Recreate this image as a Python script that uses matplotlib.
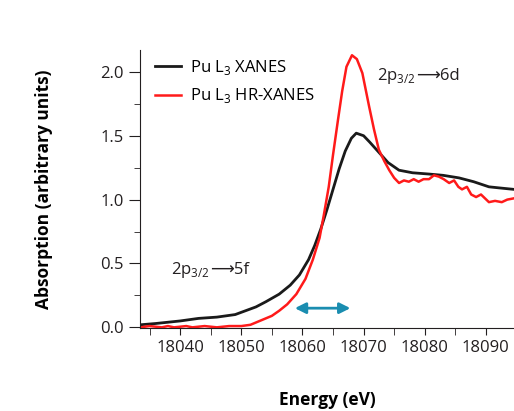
import matplotlib.pyplot as plt
from matplotlib.ticker import MultipleLocator
from matplotlib.transforms import offset_copy

plt.rcParams['font.family'] = ['Open Sans', 'DejaVu Sans']
plt.rcParams['mathtext.fontset'] = 'custom'
plt.rcParams['mathtext.rm'] = 'Open Sans'

# Pu L3 XANES (black)
E_xanes = [18033.5, 18036, 18040, 18043, 18046, 18049, 18052.4, 18054, 18056.2, 18058,
           18059.5, 18061, 18062, 18063, 18064, 18065, 18066, 18067, 18068, 18068.8,
           18070, 18071, 18072.5, 18074, 18075.8, 18078, 18080.7, 18083, 18085.6,
           18088, 18090.5, 18092.5, 18094.6]
A_xanes = [0.02, 0.03, 0.05, 0.07, 0.08, 0.10, 0.16, 0.20, 0.26, 0.33,
           0.41, 0.53, 0.64, 0.77, 0.92, 1.08, 1.24, 1.38, 1.48, 1.52,
           1.50, 1.45, 1.37, 1.29, 1.23, 1.21, 1.20, 1.19, 1.17,
           1.14, 1.10, 1.09, 1.08]

# Pu L3 HR-XANES (red)
E_hr = [18033.5, 18035, 18037, 18038, 18039, 18041, 18042, 18044, 18046, 18048, 18050,
        18051.5, 18052.5, 18054, 18055, 18056.2, 18057.5, 18059, 18060.5, 18061.7,
        18062.8, 18063.5, 18064.3, 18065, 18065.8, 18066.5, 18067.2, 18068.1,
        18068.9, 18069.8, 18070.9, 18071.7, 18072.5, 18073.4, 18074.2, 18075,
        18075.8, 18076.6, 18077.4, 18078.2, 18079, 18079.8, 18080.7, 18081.5,
        18082.3, 18083.1, 18084, 18084.8, 18085.5, 18086.1, 18086.9, 18087.6,
        18088.4, 18089.2, 18090.5, 18091.5, 18092.6, 18093.5, 18094.6]
A_hr = [0.00, 0.01, 0.00, 0.01, 0.00, 0.01, 0.00, 0.01, 0.00, 0.01, 0.01,
        0.02, 0.04, 0.07, 0.09, 0.13, 0.18, 0.26, 0.38, 0.53,
        0.70, 0.88, 1.10, 1.35, 1.62, 1.85, 2.04, 2.13,
        2.10, 1.99, 1.73, 1.55, 1.39, 1.30, 1.23, 1.17,
        1.13, 1.15, 1.14, 1.16, 1.14, 1.16, 1.16, 1.19,
        1.18, 1.16, 1.13, 1.15, 1.10, 1.08, 1.10, 1.04,
        1.02, 1.04, 0.98, 0.99, 0.98, 1.00, 1.01]

# transitions: (energy, absorption, final state)
labels = [(18038.5, 0.42, '5f'), (18072.2, 1.94, '6d')]

fig = plt.figure(figsize=(5.14, 4.11), dpi=100)
ax = fig.add_axes([0.272, 0.202, 0.728, 0.676])

ax.plot(E_xanes, A_xanes, color='#1a1a1a', linewidth=2, label='Pu L$_3$ XANES')
ax.plot(E_hr, A_hr, color='#ff1a1a', linewidth=1.8, label='Pu L$_3$ HR-XANES')

ax.annotate('', xy=(18058.3, 0.15), xytext=(18068.3, 0.15),
            arrowprops=dict(arrowstyle='<|-|>', color='#1a8db0', lw=2,
                            mutation_scale=16))

renderer = fig.canvas.get_renderer()
for x, y, state in labels:
    t1 = ax.text(x, y, '2p$_{3/2}$', fontsize=12, color='#231f20', va='baseline')
    w = t1.get_window_extent(renderer).width * 72 / fig.dpi
    tr = offset_copy(ax.transData, fig=fig, x=w + 0.5, y=0, units='points')
    ax.text(x, y, '\u27f6' + state, fontsize=12, color='#231f20', va='baseline',
            transform=tr)

ax.set_xlim(18033.4, 18094.6)
ax.set_ylim(-0.005, 2.17)
ax.xaxis.set_major_locator(MultipleLocator(10))
ax.xaxis.set_minor_locator(MultipleLocator(5))
ax.yaxis.set_major_locator(MultipleLocator(0.5))
ax.yaxis.set_minor_locator(MultipleLocator(0.25))
ax.yaxis.set_major_formatter(plt.FormatStrFormatter('%.1f'))
ax.tick_params(axis='both', which='both', labelsize=12, colors='#231f20', length=5)
ax.tick_params(axis='y', which='major', length=8)
ax.tick_params(axis='y', which='minor', length=4)
ax.tick_params(axis='x', which='both', length=5)

for s in ['top', 'right']:
    ax.spines[s].set_visible(False)
for s in ['left', 'bottom']:
    ax.spines[s].set_color('#231f20')

ax.set_xlabel('Energy (eV)', fontsize=12.5, fontweight='bold', labelpad=25)
ax.set_ylabel('Absorption (arbitrary units)', fontsize=12.5, fontweight='bold', labelpad=34)

ax.legend(loc='upper left', frameon=False, fontsize=12, handlelength=1.6,
          handletextpad=0.5, bbox_to_anchor=(0.0, 1.025), labelspacing=0.55)

fig.savefig('out.png', dpi=100)
